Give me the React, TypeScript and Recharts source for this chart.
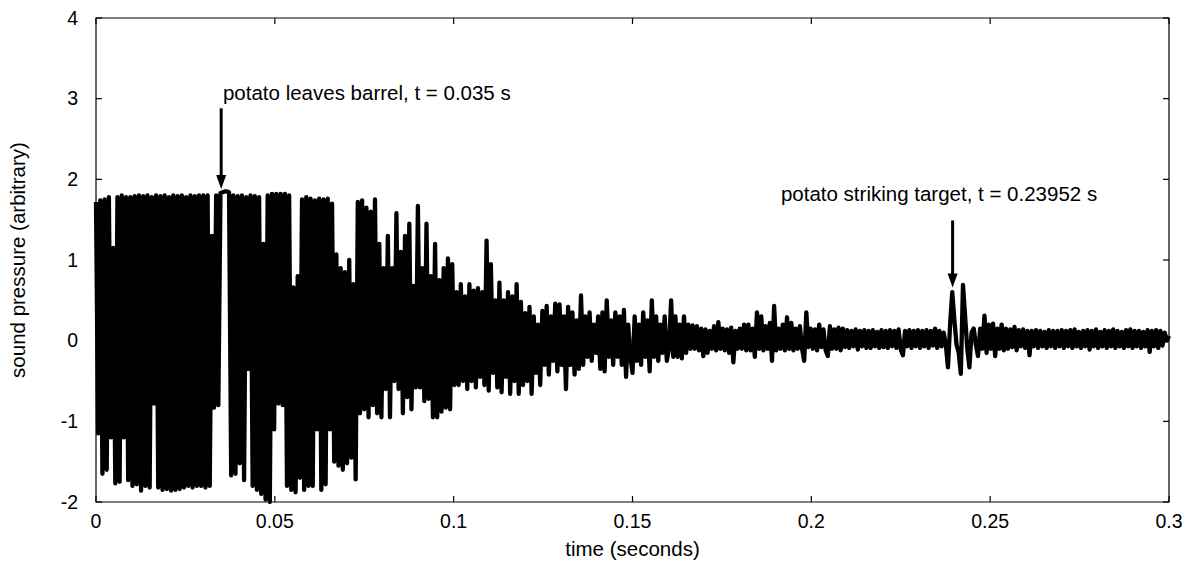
import React from "react";
import {
  LineChart,
  Line,
  XAxis,
  YAxis,
  ReferenceArea,
  ReferenceLine,
  ReferenceDot,
} from "recharts";

// recording in 0.03 s blocks, one value every 0.6 ms
const SEGMENT_SPAN = 0.03;
const SAMPLE_STEP = 0.0006;

const burstA = [
  1.72, -1.15, 1.74, -1.65, 1.75, -1.6, 1.78, -1.2, 1.15, -1.77,
  1.78, -1.75, 1.8, -1.2, 1.78, -1.73, 1.78, -1.8, 1.79, -1.78,
  1.8, -1.86, 1.79, -1.8, 1.8, -1.82, 1.78, -0.78, 1.8, -1.82,
  1.79, -1.85, 1.8, -1.84, 1.78, -1.86, 1.8, -1.85, 1.79, -1.84,
  1.8, -1.82, 1.78, -1.8, 1.8, -1.82, 1.79, -1.8, 1.8, -1.8,
];
const burstB = [
  1.8, -1.82, 1.8, -1.8, 1.3, -0.83, 1.8, -0.8, 1.83, 1.84,
  1.85, 1.85, 1.84, -1.67, 1.8, -1.65, 1.79, -1.52, 1.8, -1.73,
  1.78, -0.35, 1.8, -1.8, 1.79, -1.85, 1.78, -1.9, 1.2, -1.97,
  1.8, -2.0, 1.82, -1.1, 1.82, -0.78, 1.82, -0.8, 1.82, -1.8,
  1.8, -1.85, 0.66, -1.88, 0.8, -1.7, 1.75, -1.85, 1.78, -1.8,
];
const decayC = [
  1.76, -1.8, 1.74, -1.1, 1.76, -1.85, 1.75, -1.78, 1.76, -1.1,
  1.7, -1.5, 1.07, -1.55, 0.9, -1.6, 0.85, -1.52, 1.0, -1.45,
  0.7, -1.72, 1.72, -0.9, 1.74, -0.85, 1.65, -0.95, 1.6, -0.8,
  1.75, -0.9, 1.2, -0.95, 0.9, -0.6, 1.3, -0.95, 0.9, -0.5,
  1.58, -0.6, 1.1, -0.9, 1.3, -0.7, 1.45, -0.85, 0.68, -0.58,
];
const decayD = [
  1.67, -0.58, 0.9, -0.75, 1.45, -0.72, 0.8, -0.95, 1.2, -0.95,
  0.75, -0.88, 0.9, -0.83, 1.02, -0.85, 0.95, -0.55, 0.6, -0.55,
  0.7, -0.5, 0.55, -0.6, 0.7, -0.5, 0.62, -0.58, 0.65, -0.45,
  0.6, -0.55, 1.24, -0.62, 0.95, -0.4, 0.5, -0.58, 0.72, -0.64,
  0.5, -0.45, 0.6, -0.66, 0.55, -0.5, 0.7, -0.66, 0.48, -0.55,
];
const decayE = [
  0.34, -0.5, 0.42, -0.66, 0.3, -0.4, 0.2, -0.55, 0.37, -0.3,
  0.43, -0.42, 0.3, -0.25, 0.46, -0.38, 0.45, -0.3, 0.3, -0.6,
  0.42, -0.3, 0.35, -0.42, 0.25, -0.35, 0.56, -0.3, 0.3, -0.2,
  0.35, -0.25, 0.2, -0.15, 0.3, -0.35, 0.35, -0.38, 0.5, -0.2,
  0.25, -0.3, 0.35, -0.2, 0.3, -0.3, 0.38, -0.45, 0.2, -0.2,
];
const tailF = [
  -0.4, 0.3, -0.25, 0.2, -0.3, 0.35, -0.2, 0.25, -0.38, 0.5,
  -0.2, 0.3, -0.25, 0.2, -0.15, 0.3, -0.25, -0.1, 0.5, -0.2,
  0.3, -0.2, 0.2, -0.22, 0.3, -0.15, 0.2, -0.1, 0.19, -0.1,
  0.18, -0.12, 0.15, -0.19, 0.14, -0.15, 0.12, -0.1, 0.18, -0.12,
  0.23, -0.1, 0.15, -0.12, 0.14, -0.15, 0.16, -0.27, 0.12, -0.1,
];
const tailG = [
  0.15, -0.1, 0.2, -0.12, 0.2, -0.12, 0.15, -0.2, 0.35, -0.1,
  0.3, -0.12, 0.18, -0.1, 0.22, -0.25, 0.43, -0.12, 0.15, -0.1,
  0.2, -0.12, 0.29, -0.1, 0.22, -0.12, 0.15, -0.1, 0.18, -0.1,
  -0.25, 0.35, -0.08, 0.15, -0.1, 0.14, -0.12, 0.2, -0.08, 0.14,
  -0.12, -0.19, 0.18, -0.1, 0.14, -0.1, 0.16, -0.12, 0.15, -0.08,
];
const tailH = [
  0.13, -0.09, 0.12, -0.07, 0.14, -0.11, 0.12, -0.07, 0.13, -0.09,
  0.12, -0.09, 0.13, -0.07, 0.11, -0.09, 0.13, -0.08, 0.12, -0.09,
  0.13, -0.07, 0.12, -0.09, 0.14, -0.11, -0.18, 0.12, -0.07, 0.13,
  -0.09, 0.12, -0.07, 0.13, -0.09, 0.12, -0.07, 0.13, -0.09, 0.12,
  -0.06, 0.15, -0.09, 0.12, -0.07, 0.1, -0.05, -0.33, 0.2, 0.6,
];
const impactI = [
  0.25, -0.05, -0.15, -0.41, 0.69, 0.3, -0.1, -0.33, 0.1, 0.15,
  -0.05, -0.19, 0.15, -0.1, 0.31, -0.15, 0.2, -0.1, 0.21, -0.19,
  0.15, -0.1, 0.2, -0.12, 0.15, -0.1, 0.14, -0.08, 0.17, -0.12,
  0.13, -0.07, 0.14, -0.09, 0.12, -0.18, 0.12, -0.07, 0.13, -0.09,
  0.12, -0.07, 0.11, -0.09, 0.13, -0.07, 0.12, -0.09, 0.12, -0.07,
];
const tailJ = [
  0.13, -0.09, 0.12, -0.07, 0.13, -0.09, 0.14, -0.07, 0.11, -0.09,
  0.12, -0.07, 0.13, -0.11, 0.12, -0.07, 0.14, -0.09, 0.11, -0.07,
  0.13, -0.09, 0.12, -0.07, 0.14, -0.09, 0.12, -0.07, 0.11, -0.09,
  0.13, -0.07, 0.14, -0.09, 0.12, -0.07, 0.12, -0.09, 0.11, -0.07,
  0.13, -0.14, 0.12, -0.07, 0.13, -0.09, 0.12, -0.06, 0.1, 0.0,
  0.06,
];

const segments = [burstA, burstB, decayC, decayD, decayE, tailF, tailG, tailH, impactI, tailJ];

const data = segments.flatMap((vals, k) =>
  vals.map((p, j) => ({ t: +(k * SEGMENT_SPAN + j * SAMPLE_STEP).toFixed(5), p }))
);

const xTicks = [0, 0.05, 0.1, 0.15, 0.2, 0.25, 0.3];
const yTicks = [-2, -1, 0, 1, 2, 3, 4];

const arrows = [
  { t: 0.035, from: 2.88, to: 1.88 },
  { t: 0.2395, from: 1.49, to: 0.66 },
];
const notes = [
  { t: 0.0355, p: 3.07, text: "potato leaves barrel, t = 0.035 s" },
  { t: 0.1915, p: 1.82, text: "potato striking target, t = 0.23952 s" },
];

// chart covers the whole window, body margin is stepped over
const W = 1196;
const H = 573;
const MARGIN = { top: 18, right: 27, bottom: 0, left: 0 };
const Y_AXIS_W = 96;
const X_AXIS_H = 71;
const PLOT = {
  left: MARGIN.left + Y_AXIS_W,
  right: W - MARGIN.right,
  top: MARGIN.top,
  bottom: H - MARGIN.bottom - X_AXIS_H,
};
const TICK_LEN = 6;
const FONT = "'Liberation Sans', Arial, Helvetica, sans-serif";
const TICK_FONT = 19.5;
const TEXT_FONT = 20.5;

const XTick = (props: any) => {
  const { x, y, payload } = props;
  return (
    <g>
      <line x1={x} x2={x} y1={PLOT.bottom} y2={PLOT.bottom - TICK_LEN} stroke="#000" strokeWidth={1.2} />
      <line x1={x} x2={x} y1={PLOT.top} y2={PLOT.top + TICK_LEN} stroke="#000" strokeWidth={1.2} />
      <text x={x} y={y} dy={18} textAnchor="middle" fontSize={TICK_FONT} fontFamily={FONT} fill="#000">
        {payload.value}
      </text>
    </g>
  );
};

const YTick = (props: any) => {
  const { x, y, payload } = props;
  return (
    <g>
      <line x1={PLOT.left} x2={PLOT.left + TICK_LEN} y1={y} y2={y} stroke="#000" strokeWidth={1.2} />
      <line x1={PLOT.right} x2={PLOT.right - TICK_LEN} y1={y} y2={y} stroke="#000" strokeWidth={1.2} />
      <text x={x} y={y} dy="0.35em" textAnchor="end" fontSize={TICK_FONT} fontFamily={FONT} fill="#000">
        {payload.value}
      </text>
    </g>
  );
};

const Arrow = (props: any) => {
  const { x1, y1, x2, y2 } = props;
  const head = 14;
  const half = 5;
  return (
    <g>
      <line x1={x1} y1={y1} x2={x2} y2={y2 - head + 2} stroke="#000" strokeWidth={3} />
      <polygon points={`${x2},${y2} ${x2 - half},${y2 - head} ${x2 + half},${y2 - head}`} fill="#000" />
    </g>
  );
};

const Note = (text: string) => (props: any) => (
  <text
    x={props.cx}
    y={props.cy}
    dy="0.35em"
    textAnchor="start"
    fontSize={TEXT_FONT}
    fontFamily={FONT}
    fill="#000"
  >
    {text}
  </text>
);

export default function App() {
  return (
    <div style={{ position: "absolute", left: 0, top: 0, width: W, height: H }}>
      <LineChart width={W} height={H} data={data} margin={MARGIN}>
        <XAxis
          dataKey="t"
          type="number"
          domain={[0, 0.3]}
          ticks={xTicks}
          height={X_AXIS_H}
          axisLine={false}
          tickLine={false}
          tickSize={0}
          tickMargin={8}
          tick={XTick}
          interval={0}
          label={{
            value: "time (seconds)",
            position: "insideBottom",
            offset: 17,
            style: { fontSize: TEXT_FONT, fontFamily: FONT, fill: "#000" },
          }}
        />
        <YAxis
          type="number"
          domain={[-2, 4]}
          ticks={yTicks}
          width={Y_AXIS_W}
          axisLine={false}
          tickLine={false}
          tickSize={0}
          tickMargin={18}
          tick={YTick}
          interval={0}
          label={{
            value: "sound pressure (arbitrary)",
            angle: -90,
            position: "insideLeft",
            offset: 18,
            style: { textAnchor: "middle", fontSize: TEXT_FONT, fontFamily: FONT, fill: "#000" },
          }}
        />
        <ReferenceArea x1={0} x2={0.3} y1={-2} y2={4} fill="none" stroke="#000" strokeWidth={1.2} />
        <Line
          type="linear"
          dataKey="p"
          stroke="#000"
          strokeWidth={4.3}
          strokeLinejoin="round"
          dot={false}
          activeDot={false}
          isAnimationActive={false}
        />
        {arrows.map((a, i) => (
          <ReferenceLine
            key={`arrow-${i}`}
            segment={[
              { x: a.t, y: a.from },
              { x: a.t, y: a.to },
            ]}
            shape={Arrow}
          />
        ))}
        {notes.map((n, i) => (
          <ReferenceDot key={`note-${i}`} x={n.t} y={n.p} r={0} shape={Note(n.text)} />
        ))}
      </LineChart>
    </div>
  );
}
